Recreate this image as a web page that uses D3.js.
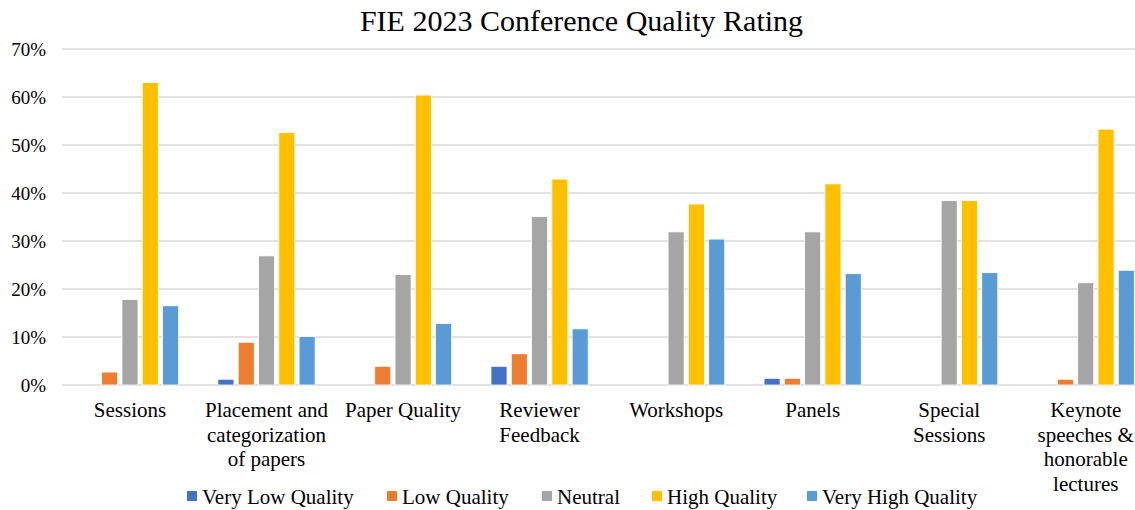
<!DOCTYPE html>
<html>
<head>
<meta charset="utf-8">
<script src="https://cdn.jsdelivr.net/npm/d3@7"></script>
<style>
body, html { margin:0; padding:0; background:#fff; }
svg { display:block; font-family: "Liberation Serif", "Times New Roman", serif; }
</style>
</head>
<body>
<svg id="chart" width="1135" height="510"></svg>
<script>
// data (percent)
var categories = ["Sessions", "Placement and categorization of papers", "Paper Quality", "Reviewer Feedback",
  "Workshops", "Panels", "Special Sessions", "Keynote speeches & honorable lectures"]
var seriesNames = ["Very Low Quality", "Low Quality", "Neutral", "High Quality", "Very High Quality"]
var seriesColors = ["#4472C4", "#ED7D31", "#A5A5A5", "#FFC000", "#5B9BD5"]
var veryLow  = [0,   1.2, 0,    3.9,  0,    1.4,  0,    0]
var low      = [2.7, 8.9, 3.9,  6.5,  0,    1.4,  0,    1.2]
var neutral  = [17.8, 26.9, 23.0, 35.1, 31.9, 31.9, 38.4, 21.3]
var high     = [63.0, 52.6, 60.4, 42.9, 37.7, 41.9, 38.4, 53.3]
var veryHigh = [16.5, 10.1, 12.8, 11.7, 30.4, 23.2, 23.4, 23.9]
var yTicks = [0, 10, 20, 30, 40, 50, 60, 70]
var title = "FIE 2023 Conference Quality Rating"

var values = [veryLow, low, neutral, high, veryHigh]
var svg = d3.select('#chart')

var x = d3.scaleBand().domain(categories).range([61.7, 1154]).paddingInner(0.288).paddingOuter(0.144)
var x1 = d3.scaleBand().domain(seriesNames).range([0, x.bandwidth()]).paddingInner(0.21).paddingOuter(0)
var y = d3.scaleLinear().domain([0, 70]).range([385, 49])

// title
svg.append('text').attr('x', 581.5).attr('y', 31).attr('text-anchor', 'middle')
  .style('font-size', '30px').attr('fill', '#000').text(title)

// gridlines
svg.append('g').selectAll('line').data(yTicks).enter().append('line')
  .attr('x1', 61.7).attr('x2', 1154)
  .attr('y1', function(d){ return y(d) }).attr('y2', function(d){ return y(d) })
  .attr('stroke', '#D9D9D9').attr('stroke-width', 1.3)

// y tick labels
svg.append('g').selectAll('text').data(yTicks).enter().append('text')
  .attr('x', 46).attr('y', function(d){ return y(d) }).attr('dy', '0.35em')
  .attr('text-anchor', 'end').style('font-size', '19px').attr('fill', '#000')
  .text(function(d){ return d + '%' })

// bars
var groups = svg.append('g').selectAll('g').data(categories).enter().append('g')
  .attr('transform', function(d){ return 'translate(' + x(d) + ',0)' })
groups.selectAll('rect').data(function(d, i){
    return seriesNames.map(function(s, k){ return {s: s, k: k, v: values[k][i]} })
  }).enter().filter(function(d){ return d.v > 0 }).append('rect')
  .attr('x', function(d){ return x1(d.s) })
  .attr('width', x1.bandwidth())
  .attr('y', function(d){ return y(d.v) })
  .attr('height', function(d){ return y(0) - y(d.v) })
  .attr('fill', function(d){ return seriesColors[d.k] })
  .attr('stroke', '#fff').attr('stroke-width', 0.8)

// category labels, wrapped
var labels = svg.append('g').selectAll('text').data(categories).enter().append('text')
  .attr('x', function(d){ return x(d) + x.bandwidth() / 2 })
  .attr('y', 417).attr('text-anchor', 'middle').style('font-size', '21px').attr('fill', '#000')
labels.each(function(d){
  var t = d3.select(this), words = d.split(' '), line = [], n = 0
  var ts = t.append('tspan').attr('x', t.attr('x')).attr('dy', 0)
  words.forEach(function(w){
    line.push(w)
    ts.text(line.join(' '))
    if (ts.node().getComputedTextLength() > 130 && line.length > 1) {
      line.pop()
      ts.text(line.join(' '))
      line = [w]
      n++
      ts = t.append('tspan').attr('x', t.attr('x')).attr('dy', 24.5).text(w)
    }
  })
})

// legend
var legX = [187, 387, 542, 652, 807]
var leg = svg.append('g').selectAll('g').data(seriesNames).enter().append('g')
  .attr('transform', function(d, i){ return 'translate(' + legX[i] + ',497)' })
leg.append('rect').attr('x', 0).attr('y', -6).attr('width', 10).attr('height', 10)
  .attr('fill', function(d, i){ return seriesColors[i] })
leg.append('text').attr('x', 15).attr('y', 0).attr('dy', '0.35em')
  .style('font-size', '21px').attr('fill', '#000').text(function(d){ return d })
</script>
</body>
</html>
